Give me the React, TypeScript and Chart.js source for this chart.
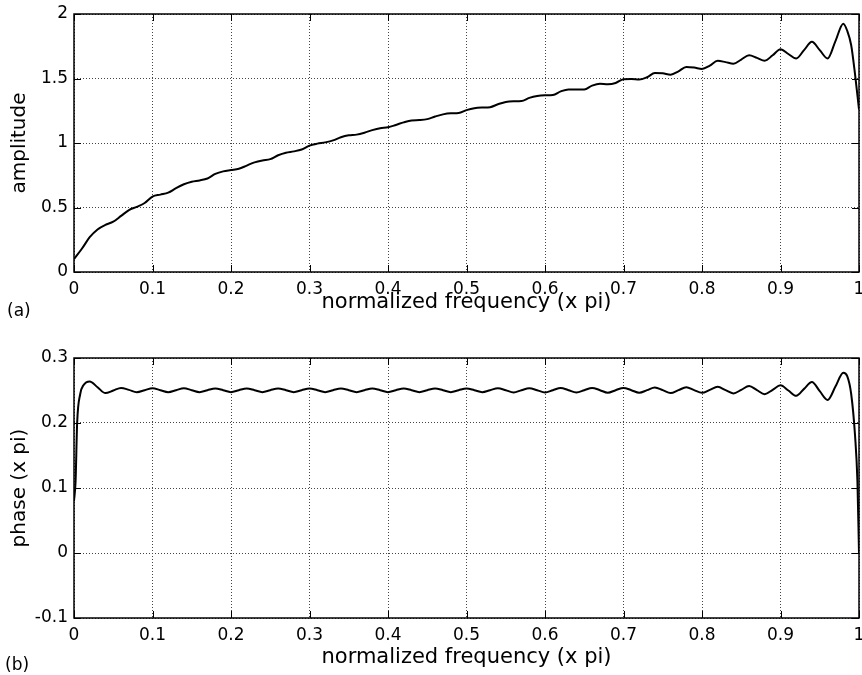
import React, { useEffect, useRef } from 'react';
import { Chart, registerables } from 'chart.js';

Chart.register(...registerables);

const FONT = '"DejaVu Sans", "Liberation Sans", sans-serif';

const xTicks = [0, 0.1, 0.2, 0.3, 0.4, 0.5, 0.6, 0.7, 0.8, 0.9, 1];
const xTickLabels = ['0', '0.1', '0.2', '0.3', '0.4', '0.5', '0.6', '0.7', '0.8', '0.9', '1'];
const ampTicks = [0, 0.5, 1, 1.5, 2];
const ampTickLabels = ['0', '0.5', '1', '1.5', '2'];
const phaseTicks = [-0.1, 0, 0.1, 0.2, 0.3];
const phaseTickLabels = ['-0.1', '0', '0.1', '0.2', '0.3'];

const ampFreq = [
  0, 0.01, 0.02, 0.03, 0.04, 0.05, 0.06, 0.07, 0.08, 0.09,
  0.1, 0.11, 0.12, 0.13, 0.14, 0.15, 0.16, 0.17, 0.18, 0.19,
  0.2, 0.21, 0.22, 0.23, 0.24, 0.25, 0.26, 0.27, 0.28, 0.29,
  0.3, 0.31, 0.32, 0.33, 0.34, 0.35, 0.36, 0.37, 0.38, 0.39,
  0.4, 0.41, 0.42, 0.43, 0.44, 0.45, 0.46, 0.47, 0.48, 0.49,
  0.5, 0.51, 0.52, 0.53, 0.54, 0.55, 0.56, 0.57, 0.58, 0.59,
  0.6, 0.61, 0.62, 0.63, 0.64, 0.65, 0.66, 0.67, 0.68, 0.69,
  0.7, 0.71, 0.72, 0.73, 0.74, 0.75, 0.76, 0.77, 0.78, 0.79,
  0.8, 0.81, 0.82, 0.83, 0.84, 0.85, 0.86, 0.87, 0.88, 0.89,
  0.9, 0.91, 0.92, 0.93, 0.94, 0.95, 0.96, 0.97, 0.98, 0.985, 0.99, 0.995, 1,
];
const ampValues = [
  0.10, 0.18, 0.27, 0.33, 0.365, 0.39, 0.435, 0.48, 0.505, 0.535,
  0.585, 0.60, 0.615, 0.65, 0.68, 0.70, 0.71, 0.725, 0.76, 0.78,
  0.79, 0.80, 0.825, 0.85, 0.865, 0.875, 0.905, 0.925, 0.935, 0.95,
  0.98, 0.995, 1.005, 1.02, 1.045, 1.06, 1.065, 1.08, 1.10, 1.115,
  1.122, 1.14, 1.16, 1.175, 1.178, 1.185, 1.205, 1.222, 1.23, 1.232,
  1.255, 1.27, 1.275, 1.278, 1.30, 1.318, 1.323, 1.325, 1.35, 1.365,
  1.37, 1.372, 1.40, 1.415, 1.414, 1.415, 1.445, 1.46, 1.455, 1.465,
  1.495, 1.497, 1.492, 1.51, 1.542, 1.54, 1.53, 1.555, 1.59, 1.585,
  1.574, 1.60, 1.637, 1.627, 1.615, 1.647, 1.68, 1.66, 1.638, 1.68,
  1.727, 1.69, 1.655, 1.72, 1.785, 1.72, 1.655, 1.79, 1.925, 1.87, 1.76, 1.53, 1.26,
];

const phaseFreq = [
  0, 0.002, 0.004, 0.008, 0.012,
  0.02, 0.03, 0.04, 0.05, 0.06, 0.07, 0.08, 0.09,
  0.1, 0.11, 0.12, 0.13, 0.14, 0.15, 0.16, 0.17, 0.18, 0.19,
  0.2, 0.21, 0.22, 0.23, 0.24, 0.25, 0.26, 0.27, 0.28, 0.29,
  0.3, 0.31, 0.32, 0.33, 0.34, 0.35, 0.36, 0.37, 0.38, 0.39,
  0.4, 0.41, 0.42, 0.43, 0.44, 0.45, 0.46, 0.47, 0.48, 0.49,
  0.5, 0.51, 0.52, 0.53, 0.54, 0.55, 0.56, 0.57, 0.58, 0.59,
  0.6, 0.61, 0.62, 0.63, 0.64, 0.65, 0.66, 0.67, 0.68, 0.69,
  0.7, 0.71, 0.72, 0.73, 0.74, 0.75, 0.76, 0.77, 0.78, 0.79,
  0.8, 0.81, 0.82, 0.83, 0.84, 0.85, 0.86, 0.87, 0.88, 0.89,
  0.9, 0.91, 0.92, 0.93, 0.94, 0.95, 0.96, 0.97, 0.98,
  0.985, 0.99, 0.995, 0.998, 1,
];
const phaseValues = [
  0.08, 0.11, 0.20, 0.245, 0.258,
  0.264, 0.255, 0.246, 0.25, 0.254, 0.251, 0.2475, 0.2505,
  0.2535, 0.2505, 0.2475, 0.2505, 0.2535, 0.2505, 0.2475, 0.2505, 0.253, 0.2505,
  0.2475, 0.2505, 0.253, 0.2505, 0.2475, 0.2505, 0.253, 0.2505, 0.2475, 0.2505,
  0.253, 0.2505, 0.2475, 0.2505, 0.253, 0.2505, 0.2475, 0.2505, 0.253, 0.2505,
  0.2475, 0.2505, 0.253, 0.2505, 0.2475, 0.2505, 0.253, 0.2505, 0.2475, 0.2505,
  0.253, 0.2505, 0.2475, 0.2505, 0.2535, 0.2505, 0.247, 0.2505, 0.2535, 0.2505,
  0.247, 0.2505, 0.254, 0.2505, 0.247, 0.2505, 0.254, 0.2505, 0.2465, 0.2505,
  0.254, 0.2505, 0.2465, 0.2505, 0.2545, 0.2505, 0.246, 0.2505, 0.255, 0.2505,
  0.2465, 0.251, 0.2556, 0.2505, 0.2455, 0.251, 0.257, 0.2505, 0.2444, 0.251,
  0.258, 0.25, 0.2419, 0.2525, 0.263, 0.249, 0.2354, 0.256, 0.2773,
  0.272, 0.245, 0.18, 0.11, 0.0,
];

const framePlugin = {
  id: 'matlabFrame',
  afterDraw(chart: any) {
    const { ctx, chartArea, scales } = chart;
    const { left, right, top, bottom } = chartArea;
    const x = scales.x;
    const y = scales.y;
    const tl = 7;
    ctx.save();
    ctx.strokeStyle = '#000';
    ctx.lineWidth = 1;
    ctx.beginPath();
    x.ticks.forEach((t: any) => {
      const px = Math.round(x.getPixelForValue(t.value)) + 0.5;
      ctx.moveTo(px, bottom);
      ctx.lineTo(px, bottom - tl);
      ctx.moveTo(px, top);
      ctx.lineTo(px, top + tl);
    });
    y.ticks.forEach((t: any) => {
      const py = Math.round(y.getPixelForValue(t.value)) + 0.5;
      ctx.moveTo(left, py);
      ctx.lineTo(left + tl, py);
      ctx.moveTo(right, py);
      ctx.lineTo(right - tl, py);
    });
    ctx.stroke();
    ctx.lineWidth = 1.5;
    ctx.strokeRect(left, top, right - left, bottom - top);
    ctx.restore();
  },
};

type PanelCfg = {
  xs: number[];
  ys: number[];
  yTicks: number[];
  yTickLabels: string[];
  yMin: number;
  yMax: number;
  yTitle: string;
  padTop: number;
  xAxisHeight: number;
  xTitlePadBottom: number;
};

function buildChart(canvas: HTMLCanvasElement, cfg: PanelCfg) {
  const points = cfg.xs.map((xv, i) => ({ x: xv, y: cfg.ys[i] }));
  return new Chart(canvas, {
    type: 'line',
    data: {
      datasets: [
        {
          data: points,
          borderColor: '#000',
          borderWidth: 2,
          pointRadius: 0,
          fill: false,
          tension: 0.4,
          cubicInterpolationMode: 'monotone',
        },
      ],
    },
    options: {
      responsive: false,
      animation: false,
      devicePixelRatio: 1,
      layout: { padding: { top: cfg.padTop, right: 3, left: 0, bottom: 0 } },
      plugins: { legend: { display: false }, tooltip: { enabled: false } },
      scales: {
        x: {
          type: 'linear',
          min: 0,
          max: 1,
          afterBuildTicks: (s: any) => {
            s.ticks = xTicks.map((v) => ({ value: v }));
          },
          afterFit: (s: any) => {
            s.height = cfg.xAxisHeight;
            s.paddingLeft = 0;
            s.paddingRight = 0;
          },
          ticks: {
            callback: (_v: any, i: number) => xTickLabels[i],
            font: { family: FONT, size: 17 },
            color: '#000',
            padding: 7,
            maxRotation: 0,
            autoSkip: false,
          },
          grid: { color: '#444', lineWidth: 1, drawTicks: false },
          border: { display: false, dash: [1, 2] },
          title: {
            display: true,
            text: 'normalized frequency (x pi)',
            font: { family: FONT, size: 21 },
            color: '#000',
            padding: { top: 0, bottom: cfg.xTitlePadBottom },
          },
        },
        y: {
          type: 'linear',
          min: cfg.yMin,
          max: cfg.yMax,
          afterBuildTicks: (s: any) => {
            s.ticks = cfg.yTicks.map((v) => ({ value: v }));
          },
          afterFit: (s: any) => {
            s.width = 74;
            s.paddingTop = 0;
            s.paddingBottom = 0;
          },
          ticks: {
            callback: (_v: any, i: number) => cfg.yTickLabels[i],
            font: { family: FONT, size: 17 },
            color: '#000',
            padding: 6,
            autoSkip: false,
          },
          grid: { color: '#444', lineWidth: 1, drawTicks: false },
          border: { display: false, dash: [1, 2] },
          title: {
            display: true,
            text: cfg.yTitle,
            font: { family: FONT, size: 20 },
            color: '#000',
            padding: { top: 8, bottom: 0 },
          },
        },
      },
    },
    plugins: [framePlugin],
  } as any);
}

export default function App() {
  const topRef = useRef<HTMLCanvasElement>(null);
  const botRef = useRef<HTMLCanvasElement>(null);

  useEffect(() => {
    const c1 = buildChart(topRef.current!, {
      xs: ampFreq,
      ys: ampValues,
      yTicks: ampTicks,
      yTickLabels: ampTickLabels,
      yMin: 0,
      yMax: 2,
      yTitle: 'amplitude',
      padTop: 14,
      xAxisHeight: 58,
      xTitlePadBottom: 15,
    });
    const c2 = buildChart(botRef.current!, {
      xs: phaseFreq,
      ys: phaseValues,
      yTicks: phaseTicks,
      yTickLabels: phaseTickLabels,
      yMin: -0.1,
      yMax: 0.3,
      yTitle: 'phase (x pi)',
      padTop: 18,
      xAxisHeight: 57,
      xTitlePadBottom: 5,
    });
    return () => {
      c1.destroy();
      c2.destroy();
    };
  }, []);

  const labelStyle: React.CSSProperties = {
    position: 'absolute',
    fontFamily: FONT,
    fontSize: 17,
    lineHeight: '20px',
    color: '#000',
  };

  return (
    <div
      style={{
        position: 'absolute',
        left: 0,
        top: 0,
        width: 862,
        height: 675,
        overflow: 'hidden',
        background: '#fff',
      }}
    >
      <canvas
        ref={topRef}
        width={862}
        height={330}
        style={{ position: 'absolute', left: 0, top: 0, width: 862, height: 330 }}
      />
      <canvas
        ref={botRef}
        width={862}
        height={335}
        style={{ position: 'absolute', left: 0, top: 340, width: 862, height: 335 }}
      />
      <div style={{ ...labelStyle, left: 7, top: 300 }}>(a)</div>
      <div style={{ ...labelStyle, left: 5, top: 654 }}>(b)</div>
    </div>
  );
}
